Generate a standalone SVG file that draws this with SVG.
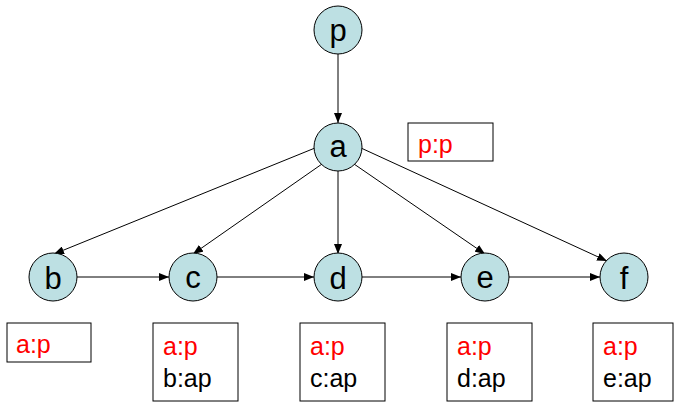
<svg xmlns="http://www.w3.org/2000/svg" width="674" height="403" viewBox="0 0 674 403">
<style>
.node circle{fill:#bde0e3;stroke:#000;stroke-width:1}
.node text{font-family:"Liberation Sans",Arial,sans-serif;font-size:31px;fill:#000;text-anchor:middle}
.box rect{fill:#fff;stroke:#000;stroke-width:1}
.box text{font-family:"Liberation Sans",Arial,sans-serif;font-size:25px}
.red{fill:#ff0000}
.blk{fill:#000}
#edges line{stroke:#000;stroke-width:1;marker-end:url(#arr)}
</style>
<defs>
<marker id="arr" viewBox="0 0 10 8" refX="10" refY="4" markerWidth="10" markerHeight="8" markerUnits="userSpaceOnUse" orient="auto">
<path d="M0,0 L10,4 L0,8 Z" fill="#000"/>
</marker>
</defs>
<rect width="674" height="403" fill="#fff"/>
<g id="edges">
<line x1="338" y1="54" x2="338" y2="123"/>
<line x1="315" y1="148" x2="54" y2="254"/>
<line x1="322" y1="164" x2="193" y2="254"/>
<line x1="338" y1="171" x2="338" y2="254"/>
<line x1="354" y1="164" x2="485" y2="254"/>
<line x1="361" y1="148" x2="607" y2="261"/>
<line x1="77" y1="277" x2="169" y2="277"/>
<line x1="217" y1="277" x2="314" y2="277"/>
<line x1="362" y1="277" x2="461" y2="277"/>
<line x1="509" y1="277" x2="600" y2="277"/>
</g>
<g id="node-p" class="node"><circle cx="338" cy="30" r="24"/><text x="338" y="41">p</text></g>
<g id="node-a" class="node"><circle cx="338" cy="147" r="24"/><text x="338" y="157">a</text></g>
<g id="node-b" class="node"><circle cx="53" cy="277" r="24"/><text x="53" y="289">b</text></g>
<g id="node-c" class="node"><circle cx="193" cy="277" r="24"/><text x="193" y="288">c</text></g>
<g id="node-d" class="node"><circle cx="338" cy="277" r="24"/><text x="338" y="289">d</text></g>
<g id="node-e" class="node"><circle cx="485" cy="277" r="24"/><text x="485" y="288">e</text></g>
<g id="node-f" class="node"><circle cx="624" cy="277" r="24"/><text x="624" y="289">f</text></g>
<g id="box-a" class="box"><rect x="408" y="123" width="85" height="38"/><text x="418" y="153" class="red">p:p</text></g>
<g id="box-b" class="box"><rect x="7" y="323" width="84" height="39"/><text x="16" y="353" class="red">a:p</text></g>
<g id="box-c" class="box"><rect x="153" y="323" width="85" height="78"/><text x="163" y="355" class="red">a:p</text><text x="163" y="387" class="blk">b:ap</text></g>
<g id="box-d" class="box"><rect x="300" y="323" width="85" height="78"/><text x="310" y="355" class="red">a:p</text><text x="310" y="387" class="blk">c:ap</text></g>
<g id="box-e" class="box"><rect x="447" y="323" width="85" height="78"/><text x="457" y="355" class="red">a:p</text><text x="457" y="387" class="blk">d:ap</text></g>
<g id="box-f" class="box"><rect x="593" y="323" width="80" height="78"/><text x="603" y="355" class="red">a:p</text><text x="603" y="387" class="blk">e:ap</text></g>
</svg>
